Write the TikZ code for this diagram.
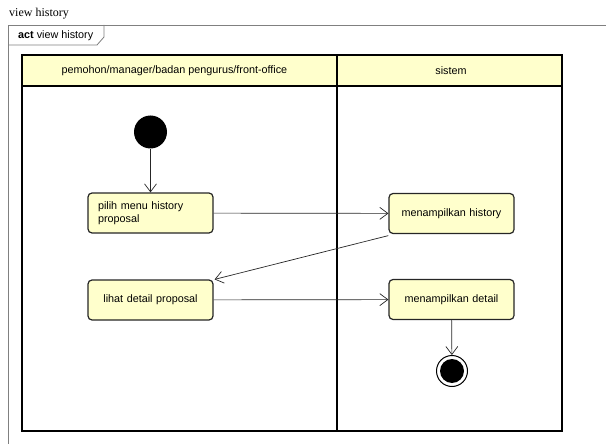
\documentclass[tikz,border=0pt]{standalone}
\usepackage{fontspec}
\setmainfont{Liberation Serif}
\newfontfamily\umlfont{Liberation Sans}
\usetikzlibrary{arrows.meta}
\definecolor{umlyellow}{RGB}{255,255,204}
\tikzset{
    action/.style={rectangle, rounded corners=4pt, draw=black!85, line width=1.2pt,
        fill=umlyellow, minimum width=125pt, minimum height=40pt, inner sep=0pt,
        text width=105pt, font=\umlfont\fontsize{10.8}{13}\selectfont},
    flow/.style={-{Straight Barb[length=8pt,width=12pt]}, line width=0.7pt, black!85},
    lane/.style={line width=1.4pt, black}
}
\begin{document}
\begin{tikzpicture}[x=1pt, y=-1pt]
    \useasboundingbox (0,0) rectangle (606,444);
    % Frame and title
    \node[anchor=base west, inner sep=0pt, font=\fontsize{12}{14}\selectfont] (title) at (9,17) {view history};
    \draw[black!50, line width=0.8pt] (606,25) -- (8,25) -- (8,444);
    \draw[black!50, line width=0.8pt] (8,45) -- (97,45) -- (104,37) -- (104,25);
    \node[anchor=west, inner sep=0pt, font=\umlfont\fontsize{10.8}{13}\selectfont] (tab) at (18,35.5) {\textbf{act} view history};
    % Swimlanes
    \fill[umlyellow] (22,55) rectangle (562,86);
    \draw[lane] (22,55) rectangle (562,431);
    \draw[lane] (22,86) -- (562,86);
    \draw[lane] (337,55) -- (337,431);
    \node[font=\umlfont\fontsize{10.8}{13}\selectfont] (actor) at (174.5,70.5) {pemohon/manager/badan pengurus/front-office};
    \node[font=\umlfont\fontsize{10.8}{13}\selectfont] (system) at (451,70.5) {sistem};
    % Activities
    \node[circle, fill=black, minimum size=33pt, inner sep=0pt] (start) at (150.5,132) {};
    \node[action, align=left] (pilih) at (150.5,213) {pilih menu history\\proposal};
    \node[action, align=center] (mhist) at (451.5,213.5) {menampilkan history};
    \node[action, align=center] (lihat) at (150.5,300) {lihat detail proposal};
    \node[action, align=center] (mdetail) at (451.5,299.5) {menampilkan detail};
    \node[circle, draw=black, line width=1pt, fill=white, minimum size=31pt, inner sep=0pt] (stop) at (452,371) {};
    \node[circle, fill=black, minimum size=24pt, inner sep=0pt] at (stop) {};
    % Flows
    \draw[flow] (start) -- (pilih);
    \draw[flow] (pilih) -- (mhist);
    \draw[flow] ([yshift=-1.5pt]mhist.south west) -- ([xshift=1pt]lihat.north east);
    \draw[flow] (lihat) -- (mdetail);
    \draw[flow] (mdetail) -- (stop);
\end{tikzpicture}
\end{document}
